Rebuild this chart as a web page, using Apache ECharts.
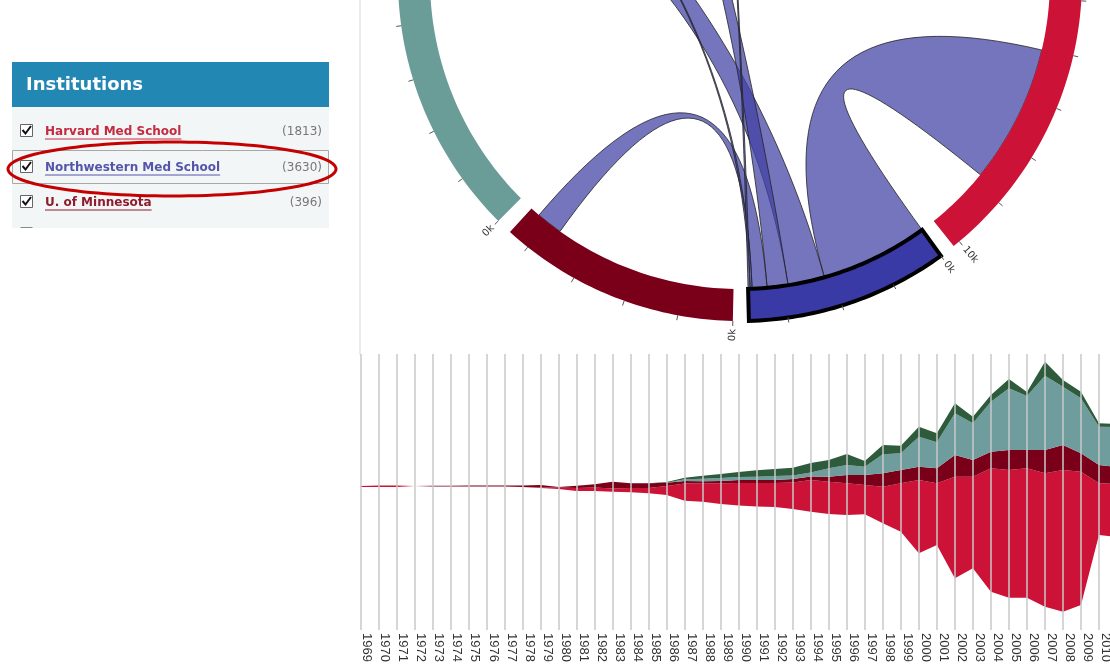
<!DOCTYPE html>
<html><head><meta charset="utf-8">
<script src="https://cdn.jsdelivr.net/npm/echarts@6/dist/echarts.min.js"></script>
<style>html,body{margin:0;padding:0;background:#fff;overflow:hidden;width:1110px;height:668px}#c{width:1130px;height:668px}</style>
</head><body><div id="c"></div>
<script>
// ---------- stream graph data (collaborations of the selected institution per year) ----------
const years = ['1969','1970','1971','1972','1973','1974','1975','1976','1977','1978',
  '1979','1980','1981','1982','1983','1984','1985','1986','1987','1988',
  '1989','1990','1991','1992','1993','1994','1995','1996','1997','1998',
  '1999','2000','2001','2002','2003','2004','2005','2006','2007','2008',
  '2009','2010','2011'];
const streamBase = [-1,-1,-1,0,-0.5,-0.5,-0.5,-0.6,-0.5,-1,
  -2,-3,-5,-5,-5.7,-6.3,-7.3,-9,-14.7,-15.7,
  -18,-19.5,-20.5,-21,-23,-25.7,-28,-29,-28.3,-37.3,
  -45.7,-67.3,-59,-92.3,-82.3,-105.7,-111.7,-111.7,-120.7,-125.7,
  -119,-49,-51];
const harvardByYear = [1,1.5,1.5,0,0,0,0,0,0,0,
  0.5,1.5,3,3.5,3.2,4.3,5.3,9,17.2,18.4,
  20.7,22.5,23.5,24,26.5,31.7,32.3,31.7,29.3,36.6,
  48.4,73.3,61.7,101.6,91.6,123.4,127.7,129.4,133.4,141.7,
  133.3,51.7,53];
const minnesotaByYear = [0,0,0,0,0.8,0.8,1,1.2,1,1.5,
  2.5,0.5,2.3,3.2,6.8,4.7,4.7,3.3,2.5,2,
  2.3,3,3,3,3.5,3.5,5,8.3,10,13.4,
  13.3,13.3,15,21.7,16.7,16.6,20,18.3,23.3,25,
  18.4,18.3,17];
const tealByYear = [0,0,0,0,0,0,0,0,0,0,
  0,0,0,0,0,0,0,0,1.7,2.6,
  3,3,3.3,4,3.5,4,8.4,10,8.3,19,
  16.7,30,26,41.7,36.7,50,61.7,54,74.3,58.3,
  55,38.3,40];
const greenByYear = [0,0,0,0,0,0,0,0,0,0,
  0,0,0,0,0,0,0,0.7,1.6,3,
  4,5,6.4,7,7.8,9.5,8.3,11,5.7,9.3,
  7.6,10,9,10,6.6,6.7,9.3,4,14,6.7,
  6.6,3.4,3];

// ---------- chord data: per institution, ordered partner shares (thousands) ----------
const chordOrder = ['HMS','NMS','UMN','D','E','F','G'];
const sharesHMS = [['D',3.2],['E',2.83],['NMS',2.79],['UMN',0.8],['F',0.31],['G',0.2]];
const sharesNMS = [['HMS',2.17],['D',0.74],['F',0.42],['UMN',0.3],['E',0.04],['G',0.04]];
const sharesUMN = [['HMS',1.5],['D',1.3],['E',0.89],['NMS',0.53],['F',0.12],['G',0.08]];
const sharesD   = [['HMS',3.4],['E',1.8],['UMN',1.4],['F',0.7],['G',0.65],['NMS',0.95]];
const sharesE   = [['NMS',0.04],['HMS',0.7],['D',0.9],['UMN',0.6],['F',0.36],['G',0.2]];
const sharesF   = [['NMS',0.3],['HMS',0.4],['D',0.3],['E',0.2],['UMN',0.2],['G',0.1]];
const sharesG   = [['NMS',0.03],['HMS',1.8],['D',1.4],['E',0.9],['UMN',0.6],['F',0.52]];
const selected = 'NMS';

// ---------- panel data ----------
const panelNames = ['Harvard Med School','Northwestern Med School','U. of Minnesota'];
const panelCounts = ['(1813)','(3630)','(396)'];

// ---------- styles ----------
const arcColors = {HMS:'#cc1236', NMS:'#3a3aa6', UMN:'#7a0019', D:'#6a9c98', E:'#2e5c3e', F:'#8a8a4a', G:'#b07040'};
const linkColors = ['#c42a40','#5454aa','#8e1c2c'];
const PAD = 0.29, R_IN = 310, R_OUT = 342;

// chord layout (like d3.chord)
const sharesMap = {HMS:sharesHMS, NMS:sharesNMS, UMN:sharesUMN, D:sharesD, E:sharesE, F:sharesF, G:sharesG};
const layout = {};
let pos = 0;
chordOrder.forEach(key => {
  const start = pos; const seg = {};
  sharesMap[key].forEach(([k, v]) => { seg[k] = [pos, pos + v]; pos += v; });
  layout[key] = {start, end: pos, seg};
  pos += PAD;
});
const TOTAL = pos;

const arcData = chordOrder.map((k, i) => [layout[k].start, layout[k].end, i]);
const tickData = [], labelData = [];
chordOrder.forEach(k => {
  const size = layout[k].end - layout[k].start;
  for (let t = 0; t <= size + 1e-9; t++) {
    tickData.push([layout[k].start + t]);
    if (t % 10 === 0) labelData.push([layout[k].start + t, t]);
  }
});
const ribbonData = sharesNMS.map(([k]) => {
  const s = layout[selected].seg[k], t = layout[k].seg[selected];
  return [s[0], s[1], t[0], t[1]];
});

function arcPts(api, r, a, b) {
  const n = Math.max(2, Math.ceil(Math.abs(b - a) * 10));
  const pts = [];
  for (let i = 0; i <= n; i++) pts.push(api.coord([r, a + (b - a) * i / n]));
  return pts;
}
function quad(p0, c, p1) {
  const pts = [];
  for (let i = 1; i < 40; i++) {
    const t = i / 40, u = 1 - t;
    pts.push([u*u*p0[0] + 2*u*t*c[0] + t*t*p1[0], u*u*p0[1] + 2*u*t*c[1] + t*t*p1[1]]);
  }
  return pts;
}

// ---------- panel graphics ----------
const mctx = document.createElement('canvas').getContext('2d');
const linkFont = 'bold 12px "DejaVu Sans"';
mctx.font = linkFont;
const g = [];
g.push({type:'line', shape:{x1:360, y1:0, x2:360, y2:355}, style:{stroke:'#e4e4e4', lineWidth:1.5}});
g.push({type:'rect', shape:{x:12, y:62, width:317, height:45}, style:{fill:'#2387b4'}});
g.push({type:'text', x:26, y:85, style:{text:'Institutions', fill:'#fff', font:'bold 18px "DejaVu Sans"', verticalAlign:'middle'}});
g.push({type:'rect', shape:{x:12, y:107, width:317, height:121}, style:{fill:'#f3f6f6'}});
g.push({type:'rect', shape:{x:12.5, y:150.5, width:316, height:33}, style:{fill:'none', stroke:'#a8a8a8', lineWidth:1}});
const rowY = [132, 168, 203];
panelNames.forEach((name, i) => {
  const y = rowY[i];
  g.push({type:'rect', shape:{x:20.5, y:y-7.5, width:12, height:12}, style:{fill:'#fff', stroke:'#666', lineWidth:1}});
  g.push({type:'polyline', shape:{points:[[22.5,y-2],[25.5,y+1.5],[31,y-6]]}, style:{stroke:'#111', lineWidth:2, fill:'none'}});
  g.push({type:'text', x:45, y:y, style:{text:name, fill:linkColors[i], font:linkFont, verticalAlign:'middle'}});
  const w = mctx.measureText(name).width;
  g.push({type:'line', shape:{x1:45, y1:y+7, x2:45+w, y2:y+7}, style:{stroke:linkColors[i], lineWidth:1}});
  g.push({type:'text', x:322, y:y, style:{text:panelCounts[i], fill:'#777', font:'12px "DejaVu Sans"', align:'right', verticalAlign:'middle'}});
});
g.push({type:'line', shape:{x1:20.5, y1:227.5, x2:32.5, y2:227.5}, style:{stroke:'#888', lineWidth:1}});
const ell = [];
for (let i = 0; i < 120; i++) { const a = i / 120 * Math.PI * 2; ell.push([172 + 164 * Math.cos(a), 169 + 27 * Math.sin(a)]); }
g.push({type:'polygon', shape:{points:ell}, style:{fill:'none', stroke:'#c40000', lineWidth:3}});

// ---------- chart ----------
const chart = echarts.init(document.getElementById('c'), null, {renderer:'canvas'});
const streamCommon = {type:'line', stack:'stream', stackStrategy:'all', symbol:'none', smooth:false,
  silent:true, lineStyle:{opacity:0, width:0}, emphasis:{disabled:true}, xAxisIndex:0, yAxisIndex:0};
const option = {
  animation:false,
  backgroundColor:'#fff',
  polar:{center:[740,-21], radius:[0,R_OUT]},
  angleAxis:{type:'value', min:0, max:TOTAL, startAngle:42.8, clockwise:true,
    axisLine:{show:false}, axisTick:{show:false}, axisLabel:{show:false}, splitLine:{show:false}},
  radiusAxis:{type:'value', min:0, max:R_OUT, axisLine:{show:false}, axisTick:{show:false}, axisLabel:{show:false}, splitLine:{show:false}},
  grid:{left:360.5, top:354, width:42*18.03, height:276},
  xAxis:{type:'category', data:years, boundaryGap:false, z:5,
    axisLine:{show:false}, axisTick:{show:false},
    splitLine:{show:true, lineStyle:{color:'rgba(200,200,200,0.75)', width:2}},
    axisLabel:{rotate:-90, margin:3, fontSize:13, color:'#333', fontFamily:'"Liberation Sans", Arial', verticalAlign:'bottom', interval:0}},
  yAxis:{type:'value', min:-144, max:132, show:false},
  graphic:{elements:g},
  series:[
    {...streamCommon, name:'base', data:streamBase},
    {...streamCommon, name:'Harvard Med School', data:harvardByYear, areaStyle:{color:'#cc1236', opacity:1}},
    {...streamCommon, name:'U. of Minnesota', data:minnesotaByYear, areaStyle:{color:'#7a0019', opacity:1}},
    {...streamCommon, name:'D', data:tealByYear, areaStyle:{color:'#6f9c9c', opacity:1}},
    {...streamCommon, name:'E', data:greenByYear, areaStyle:{color:'#2d5b3b', opacity:1}},
    {type:'custom', coordinateSystem:'polar', silent:true, data:ribbonData, z:3,
      renderItem:function(params, api){
        const cs = params.coordSys; const c = [cs.cx, cs.cy];
        const sp = arcPts(api, R_IN, api.value(0), api.value(1));
        const tp = arcPts(api, R_IN, api.value(2), api.value(3));
        const pts = [].concat(sp, quad(sp[sp.length-1], c, tp[0]), tp, quad(tp[tp.length-1], c, sp[0]));
        return {type:'polygon', shape:{points:pts}, style:{fill:'rgba(66,66,165,0.73)', stroke:'#222', lineWidth:0.8}};
      }},
    {type:'custom', coordinateSystem:'polar', silent:true, data:arcData, z:4,
      renderItem:function(params, api){
        const a = api.value(0), b = api.value(1), key = chordOrder[api.value(2)];
        const outer = arcPts(api, R_OUT, a, b), inner = arcPts(api, R_IN, a, b).reverse();
        const sel = key === selected;
        return {type:'polygon', shape:{points:outer.concat(inner)},
          style:{fill:arcColors[key], stroke:sel ? '#000' : null, lineWidth:sel ? 4 : 0, lineJoin:'miter'}};
      }},
    {type:'custom', coordinateSystem:'polar', silent:true, data:tickData, z:4,
      renderItem:function(params, api){
        const v = api.value(0);
        const p0 = api.coord([R_OUT, v]), p1 = api.coord([R_OUT + 5, v]);
        return {type:'line', shape:{x1:p0[0], y1:p0[1], x2:p1[0], y2:p1[1]}, style:{stroke:'#555', lineWidth:1}};
      }},
    {type:'custom', coordinateSystem:'polar', silent:true, data:labelData, z:4,
      renderItem:function(params, api){
        const cs = params.coordSys;
        const v = api.value(0), k = api.value(1);
        const p = api.coord([R_OUT + 8, v]);
        const th = Math.atan2(p[1] - cs.cy, p[0] - cs.cx);
        const flip = Math.cos(th) < 0;
        return {type:'text', x:p[0], y:p[1], rotation: flip ? Math.PI - th : -th,
          style:{text:k + 'k', fill:'#333', font:'10px "DejaVu Sans"', align: flip ? 'right' : 'left', verticalAlign:'middle'}};
      }}
  ]
};
chart.setOption(option);
</script>
</body></html>
